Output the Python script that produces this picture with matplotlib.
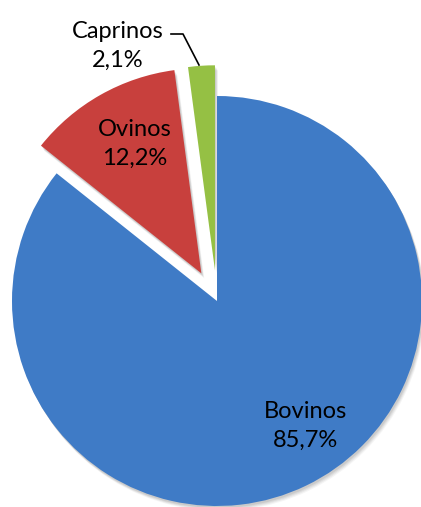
import matplotlib
matplotlib.use("Agg")
import matplotlib.pyplot as plt

categories = ["Bovinos", "Ovinos", "Caprinos"]
values = [85.7, 12.2, 2.1]
labels = ["Bovinos\n85,7%", "Ovinos\n12,2%", "Caprinos\n2,1%"]
colors = ["#3F7BC6", "#C8403D", "#95C044"]
explode_frac = [0.0, 0.155, 0.15]

W, H = 421, 507
fig = plt.figure(figsize=(W / 100, H / 100), dpi=100)
ax = fig.add_axes([0, 0, 1, 1])

cx, cy, r = 217, H - 301, 205
explode = [e * r for e in explode_frac]

# soft shadow
for k, a in [(5, 0.04), (4, 0.05), (3, 0.06), (2, 0.07)]:
    ax.pie(values, explode=explode, startangle=90, counterclock=False,
           center=(cx + k * 0.6, cy - k), radius=r,
           colors=["#000000"] * 3, wedgeprops=dict(alpha=a, linewidth=0))

wedges, _ = ax.pie(values, explode=explode, startangle=90, counterclock=False,
                   center=(cx, cy), radius=r, colors=colors,
                   wedgeprops=dict(linewidth=0))
ax.set_xlim(0, W)
ax.set_ylim(0, H)
ax.set_aspect("equal")
ax.axis("off")

font = dict(family=["Lato", "DejaVu Sans"], fontsize=17, color="black",
            ha="center", va="center", linespacing=1.5)
ax.text(305, H - 426, labels[0], **font)
ax.text(135, H - 144, labels[1], **font)
ax.text(118, H - 46, labels[2], **font)

ax.plot([171, 183, 199], [H - 34, H - 34, H - 65], color="black", lw=1.2)

fig.savefig("out.png", dpi=100)
